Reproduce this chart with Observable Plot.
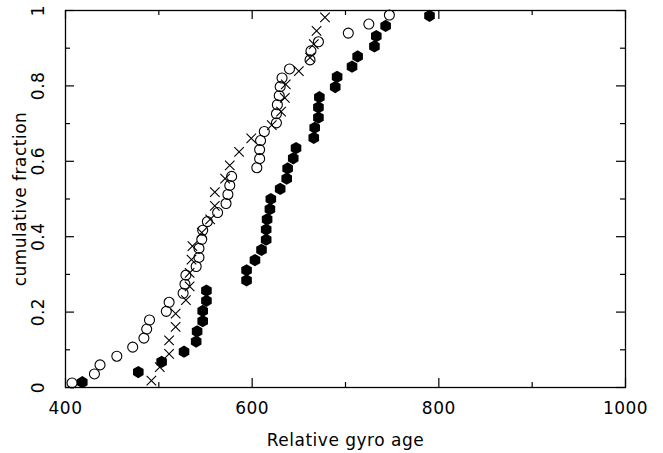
<!DOCTYPE html>
<html>
<head>
<meta charset="utf-8">
<script src="https://cdn.jsdelivr.net/npm/d3@7"></script>
<script src="https://cdn.jsdelivr.net/npm/@observablehq/plot@0.6"></script>
<style>
  html, body { margin: 0; padding: 0; background: #fff; }
</style>
</head>
<body>
<div id="chart"></div>
<script>
// Open circles sample: relative gyro age and cumulative fraction
const openAge = [407, 431, 437, 455, 472, 484, 487, 490, 508, 511, 526, 528, 529, 540, 543, 543, 546, 547, 552, 563, 572, 574, 576, 578, 605, 608, 608, 609, 613, 626, 626, 627, 629, 630, 632, 640, 662, 663, 671, 703, 725, 747];
const openFrac = [0.012, 0.036, 0.060, 0.083, 0.107, 0.131, 0.155, 0.179, 0.202, 0.226, 0.250, 0.274, 0.298, 0.321, 0.345, 0.369, 0.393, 0.417, 0.440, 0.464, 0.488, 0.512, 0.536, 0.560, 0.583, 0.607, 0.631, 0.655, 0.679, 0.702, 0.726, 0.750, 0.774, 0.798, 0.821, 0.845, 0.869, 0.893, 0.917, 0.940, 0.964, 0.988];

// Filled hexagons sample
const filledAge = [418, 478, 503, 527, 540, 541, 547, 547, 551, 551, 594, 594, 603, 610, 615, 615, 616, 619, 620, 630, 637, 638, 644, 647, 666, 667, 671, 671, 672, 689, 691, 707, 713, 731, 733, 743, 790];
const filledFrac = [0.014, 0.041, 0.068, 0.095, 0.122, 0.149, 0.176, 0.203, 0.230, 0.257, 0.284, 0.311, 0.338, 0.365, 0.392, 0.419, 0.446, 0.473, 0.500, 0.527, 0.554, 0.581, 0.608, 0.635, 0.662, 0.689, 0.716, 0.743, 0.770, 0.797, 0.824, 0.851, 0.878, 0.905, 0.932, 0.959, 0.986];

// Crosses sample
const crossAge = [492, 501, 511, 511, 518, 518, 529, 533, 533, 535, 536, 546, 555, 560, 560, 571, 576, 586, 599, 621, 631, 635, 636, 650, 662, 666, 669, 678];
const crossFrac = [0.018, 0.054, 0.089, 0.125, 0.161, 0.196, 0.232, 0.268, 0.304, 0.339, 0.375, 0.411, 0.446, 0.482, 0.518, 0.554, 0.589, 0.625, 0.661, 0.696, 0.732, 0.768, 0.804, 0.839, 0.875, 0.911, 0.946, 0.982];

// Axis ticks
const xMajor = [400, 600, 800, 1000];
const xMinor = [500, 700, 900];
const xTickLabels = ["400", "600", "800", "1000"];
const yMajor = [0, 0.2, 0.4, 0.6, 0.8, 1];
const yMinor = [0.1, 0.3, 0.5, 0.7, 0.9];
const yTickLabels = ["0", "0.2", "0.4", "0.6", "0.8", "1"];
const xTitle = "Relative gyro age";
const yTitle = "cumulative fraction";

const W = 663, H = 453;
const mL = 65, mR = 38, mT = 10, mB = 66;
const fw = W - mL - mR, fh = H - mT - mB;
const major = 9, minor = 5;

const openData = openAge.map((a, i) => ({age: a, frac: openFrac[i]}));
const filledData = filledAge.map((a, i) => ({age: a, frac: filledFrac[i]}));
const crossData = crossAge.map((a, i) => ({age: a, frac: crossFrac[i]}));

const font = "DejaVu Sans";

const chart = Plot.plot({
  width: W,
  height: H,
  marginLeft: mL,
  marginRight: mR,
  marginTop: mT,
  marginBottom: mB,
  style: {fontFamily: font, fontSize: "16px", background: "white", color: "black", letterSpacing: "0.5px"},
  x: {domain: [400, 1000], axis: null},
  y: {domain: [0, 1], axis: null},
  marks: [
    Plot.frame({stroke: "black", strokeWidth: 1.3}),
    // inward ticks
    Plot.ruleX(xMajor, {x: d => d, insetTop: fh - major, stroke: "black", strokeWidth: 1.2}),
    Plot.ruleX(xMajor, {x: d => d, insetBottom: fh - major, stroke: "black", strokeWidth: 1.2}),
    Plot.ruleX(xMinor, {x: d => d, insetTop: fh - minor, stroke: "black", strokeWidth: 1.2}),
    Plot.ruleX(xMinor, {x: d => d, insetBottom: fh - minor, stroke: "black", strokeWidth: 1.2}),
    Plot.ruleY(yMajor, {y: d => d, insetRight: fw - major, stroke: "black", strokeWidth: 1.2}),
    Plot.ruleY(yMajor, {y: d => d, insetLeft: fw - major, stroke: "black", strokeWidth: 1.2}),
    Plot.ruleY(yMinor, {y: d => d, insetRight: fw - minor, stroke: "black", strokeWidth: 1.2}),
    Plot.ruleY(yMinor, {y: d => d, insetLeft: fw - minor, stroke: "black", strokeWidth: 1.2}),
    // tick labels
    Plot.text(xMajor, {x: d => d, text: (d, i) => xTickLabels[i], frameAnchor: "bottom", dy: 21, lineAnchor: "middle", fontSize: 17, fill: "black"}),
    Plot.text(yMajor, {y: d => d, text: (d, i) => yTickLabels[i], frameAnchor: "left", dx: -27, rotate: -90, textAnchor: "middle", lineAnchor: "middle", fontSize: 17, fill: "black"}),
    // titles
    Plot.text([xTitle], {text: d => d, frameAnchor: "bottom", dy: 53, lineAnchor: "middle", fontSize: 17, fill: "black"}),
    Plot.text([yTitle], {text: d => d, frameAnchor: "left", dx: -45, rotate: -90, textAnchor: "middle", lineAnchor: "middle", fontSize: 17, fill: "black"}),
    // data
    Plot.dot(openData, {x: "age", y: "frac", symbol: "circle", r: 5, stroke: "black", strokeWidth: 1.1, fill: "none"}),
    Plot.dot(crossData, {x: "age", y: "frac", symbol: "times", r: 4.4, stroke: "black", strokeWidth: 1.1}),
    Plot.dot(filledData, {x: "age", y: "frac", symbol: "hexagon", r: 5.3, fill: "black", stroke: "none"})
  ]
});
document.getElementById("chart").appendChild(chart);
</script>
</body>
</html>
